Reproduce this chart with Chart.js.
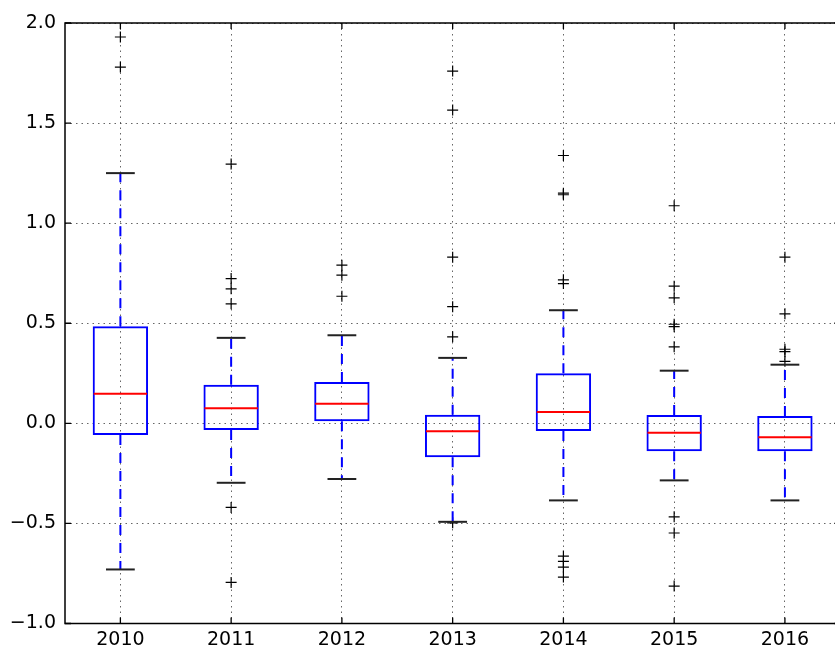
<!DOCTYPE html>
<html>
<head>
<meta charset="utf-8">
<script src="https://cdn.jsdelivr.net/npm/chart.js@4/dist/chart.umd.min.js"></script>
<style>
  html, body { margin: 0; padding: 0; overflow: hidden; background: #ffffff; }
  #wrap { width: 847px; height: 650px; }
</style>
</head>
<body>
<div id="wrap"><canvas id="chart" width="847" height="650"></canvas></div>
<script>
// Yearly distributions: quartiles, whisker ends and points beyond the whiskers
const years = ['2010', '2011', '2012', '2013', '2014', '2015', '2016'];
const q1 = [-0.058, -0.033, 0.010, -0.170, -0.038, -0.140, -0.140];
const medians = [0.148, 0.075, 0.098, -0.040, 0.057, -0.047, -0.070];
const q3 = [0.485, 0.193, 0.207, 0.043, 0.250, 0.042, 0.037];
const whiskerLow = [-0.730, -0.297, -0.278, -0.492, -0.385, -0.285, -0.385];
const whiskerHigh = [1.250, 0.427, 0.440, 0.327, 0.565, 0.263, 0.293];
const outliers = [
  [1.930, 1.780],
  [1.295, 0.723, 0.672, 0.597, -0.420, -0.795],
  [0.790, 0.740, 0.635],
  [1.760, 1.565, 0.830, 0.583, 0.432, -0.497],
  [1.338, 1.150, 1.142, 0.717, 0.698, -0.663, -0.690, -0.718, -0.768],
  [1.087, 0.685, 0.627, 0.495, 0.483, 0.382, -0.467, -0.548, -0.813],
  [0.830, 0.547, 0.370, 0.358, 0.310]
];
const yTicks = [-1.0, -0.5, 0.0, 0.5, 1.0, 1.5, 2.0];

const outlierPoints = [];
outliers.forEach((vals, i) => vals.forEach(v => outlierPoints.push({ x: years[i], y: v })));

const FONT = { family: 'DejaVu Sans', size: 19 };

// Whiskers, caps, medians, the axes frame and inward tick marks
const boxParts = {
  id: 'boxParts',
  afterDatasetsDraw(chart) {
    const { ctx, chartArea: a, scales: { x, y } } = chart;
    const unit = x.getPixelForValue(1) - x.getPixelForValue(0);
    ctx.save();
    years.forEach((yr, i) => {
      const cx = x.getPixelForValue(i);
      // dashed whiskers
      ctx.strokeStyle = '#0000ff';
      ctx.lineWidth = 2;
      ctx.setLineDash([10, 8]);
      ctx.beginPath();
      ctx.moveTo(cx, y.getPixelForValue(q3[i]));
      ctx.lineTo(cx, y.getPixelForValue(whiskerHigh[i]));
      ctx.stroke();
      ctx.beginPath();
      ctx.moveTo(cx, y.getPixelForValue(q1[i]));
      ctx.lineTo(cx, y.getPixelForValue(whiskerLow[i]));
      ctx.stroke();
      ctx.setLineDash([]);
      // caps
      ctx.strokeStyle = '#222222';
      const hc = unit * 0.13;
      [whiskerHigh[i], whiskerLow[i]].forEach(v => {
        const py = y.getPixelForValue(v);
        ctx.beginPath();
        ctx.moveTo(cx - hc, py);
        ctx.lineTo(cx + hc, py);
        ctx.stroke();
      });
      // median
      ctx.strokeStyle = '#ff0000';
      const hb = unit * 0.25 - 1;
      const pm = y.getPixelForValue(medians[i]);
      ctx.beginPath();
      ctx.moveTo(cx - hb, pm);
      ctx.lineTo(cx + hb, pm);
      ctx.stroke();
    });
    // frame
    ctx.strokeStyle = '#000000';
    ctx.lineWidth = 1.5;
    ctx.strokeRect(a.left, a.top, a.right - a.left, a.bottom - a.top);
    // inward ticks
    const tl = 6;
    ctx.lineWidth = 1.3;
    yTicks.forEach(v => {
      const py = y.getPixelForValue(v);
      ctx.beginPath();
      ctx.moveTo(a.left, py); ctx.lineTo(a.left + tl, py);
      ctx.moveTo(a.right, py); ctx.lineTo(a.right - tl, py);
      ctx.stroke();
    });
    years.forEach((yr, i) => {
      const px = x.getPixelForValue(i);
      ctx.beginPath();
      ctx.moveTo(px, a.bottom); ctx.lineTo(px, a.bottom - tl);
      ctx.moveTo(px, a.top); ctx.lineTo(px, a.top + tl);
      ctx.stroke();
    });
    ctx.restore();
  }
};

new Chart(document.getElementById('chart'), {
  type: 'bar',
  data: {
    labels: years,
    datasets: [
      {
        label: 'box',
        data: years.map((_, i) => [q1[i], q3[i]]),
        backgroundColor: 'rgba(0,0,0,0)',
        borderColor: '#0000ff',
        borderWidth: 2,
        borderSkipped: false,
        barPercentage: 0.5,
        categoryPercentage: 1.0,
        grouped: false
      },
      {
        type: 'line',
        label: 'outliers',
        data: outlierPoints,
        showLine: false,
        pointStyle: 'cross',
        pointRadius: 5.5,
        pointBorderWidth: 1.2,
        pointBorderColor: '#000000',
        pointBackgroundColor: '#000000'
      }
    ]
  },
  options: {
    responsive: false,
    animation: false,
    layout: { padding: { top: 23, left: 0, right: 0, bottom: 0 } },
    plugins: { legend: { display: false }, tooltip: { enabled: false } },
    scales: {
      x: {
        offset: true,
        grid: { offset: false, color: 'rgba(0,0,0,0.6)', lineWidth: 1, drawTicks: false },
        border: { display: false, dash: [1.5, 4] },
        ticks: { color: '#000000', font: FONT, padding: 5, maxRotation: 0 },
        afterFit(scale) { scale.height = 26.5; }
      },
      y: {
        min: -1.0,
        max: 2.0,
        afterBuildTicks(scale) { scale.ticks = yTicks.map(v => ({ value: v })); },
        grid: { color: 'rgba(0,0,0,0.6)', lineWidth: 1, drawTicks: false },
        border: { display: false, dash: [1.5, 4] },
        ticks: {
          color: '#000000',
          font: FONT,
          padding: 9,
          callback: v => v.toFixed(1).replace('-', '\u2212')
        },
        afterFit(scale) { scale.width = 65; }
      }
    }
  },
  plugins: [boxParts]
});
</script>
</body>
</html>
